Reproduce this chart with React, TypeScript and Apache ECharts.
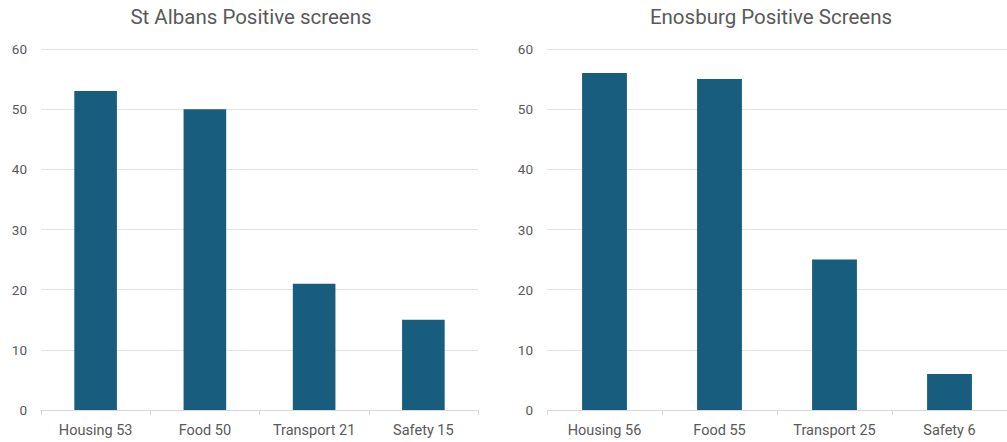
import React, { useEffect, useRef } from "react";
import * as echarts from "echarts";

const titles = ["St Albans Positive screens", "Enosburg Positive Screens"];
const stAlbansCategories = ["Housing 53", "Food 50", "Transport 21", "Safety 15"];
const stAlbansValues = [53, 50, 21, 15];
const enosburgCategories = ["Housing 56", "Food 55", "Transport 25", "Safety 6"];
const enosburgValues = [56, 55, 25, 6];
const yTicks = { min: 0, max: 60, interval: 10 };

const FONT = "Roboto, 'Noto Sans', sans-serif";
const TEXT = "#595959";
const BAR = "#195d7e";

export default function App() {
  const ref = useRef<HTMLDivElement>(null);
  useEffect(() => {
    if (!ref.current) return;
    const chart = echarts.init(ref.current, undefined, { renderer: "svg" });
    const grids = [
      { left: 41, width: 437, top: 49, height: 361 },
      { left: 547, width: 465, top: 49, height: 361 },
    ];
    const cats = [stAlbansCategories, enosburgCategories];
    const vals = [stAlbansValues, enosburgValues];
    chart.setOption({
      animation: false,
      backgroundColor: "#ffffff",
      title: [
        { text: titles[0], left: 246, top: 1, textAlign: "center", textStyle: { fontFamily: FONT, fontSize: 20.5, fontWeight: "normal", color: TEXT } },
        { text: titles[1], left: 766, top: 1, textAlign: "center", textStyle: { fontFamily: FONT, fontSize: 20.5, fontWeight: "normal", color: TEXT } },
      ],
      grid: grids,
      xAxis: [0, 1].map((i) => ({
        type: "category",
        gridIndex: i,
        data: cats[i],
        boundaryGap: true,
        axisLine: { show: true, lineStyle: { color: "#d9d9d9", width: 1 } },
        axisTick: { show: true, length: 5, lineStyle: { color: "#d9d9d9" } },
        axisLabel: { fontFamily: FONT, fontSize: 14.5, color: TEXT, margin: 13 },
      })),
      yAxis: [0, 1].map((i) => ({
        type: "value",
        gridIndex: i,
        min: yTicks.min,
        max: yTicks.max,
        interval: yTicks.interval,
        axisLine: { show: false },
        axisTick: { show: false },
        splitLine: { show: true, lineStyle: { color: "#e3e3e3", width: 1 } },
        axisLabel: { fontFamily: FONT, fontSize: 13.5, color: TEXT, margin: 14 },
      })),
      series: [0, 1].map((i) => ({
        type: "bar",
        xAxisIndex: i,
        yAxisIndex: i,
        data: vals[i],
        barWidth: "39%",
        itemStyle: { color: BAR },
      })),
    });
    return () => chart.dispose();
  }, []);
  return (
    <div
      ref={ref}
      style={{ position: "fixed", left: 0, top: 0, width: 1007, height: 442 }}
    />
  );
}
